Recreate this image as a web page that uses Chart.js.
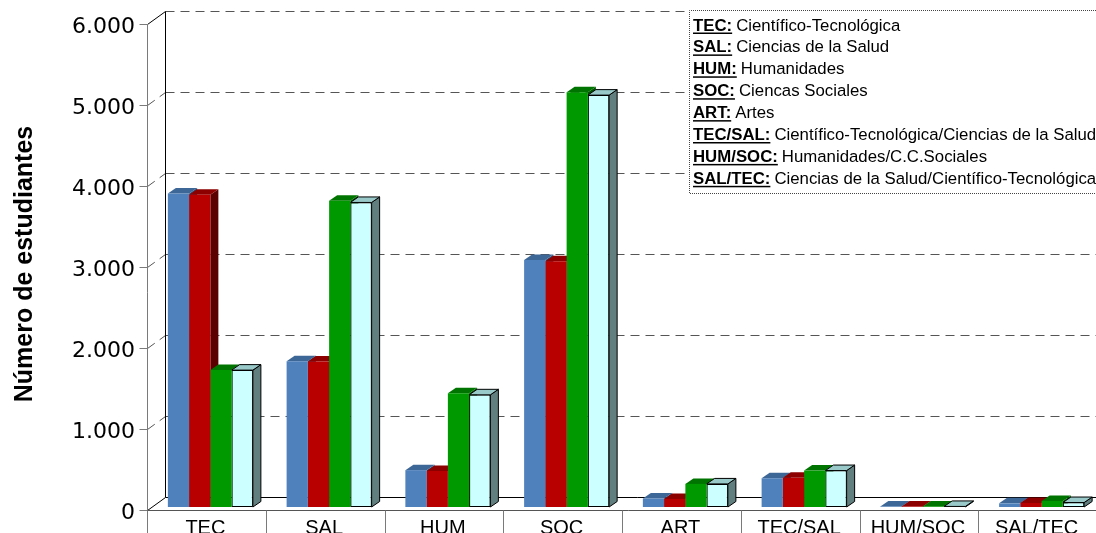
<!DOCTYPE html>
<html>
<head>
<meta charset="utf-8">
<script src="https://cdn.jsdelivr.net/npm/chart.js@4/dist/chart.umd.min.js"></script>
<style>
  html, body { margin: 0; padding: 0; background: #fff; overflow: hidden; }
  #wrap { width: 1096px; height: 533px; overflow: hidden; }
  #inner { width: 1110px; height: 560px; }
</style>
</head>
<body>
<div id="wrap"><div id="inner"><canvas id="chart" width="1110" height="560"></canvas></div></div>
<script>
// categorias y valores
const categories = ['TEC', 'SAL', 'HUM', 'SOC', 'ART', 'TEC/SAL', 'HUM/SOC', 'SAL/TEC'];
const serie1 = [3870, 1800, 455, 3050, 105, 355, 6, 45];
const serie2 = [3855, 1795, 445, 3035, 100, 360, 6, 50];
const serie3 = [1690, 3780, 1405, 5120, 285, 450, 7, 75];
const serie4 = [1690, 3760, 1385, 5085, 285, 450, 7, 55];
const yTickLabels = ['0', '1.000', '2.000', '3.000', '4.000', '5.000', '6.000'];
const legendKeys = ['TEC:', 'SAL:', 'HUM:', 'SOC:', 'ART:', 'TEC/SAL:', 'HUM/SOC:', 'SAL/TEC:'];
const legendTexts = [
    'Científico-Tecnológica',
    'Ciencias de la Salud',
    'Humanidades',
    'Ciencas Sociales',
    'Artes',
    'Científico-Tecnológica/Ciencias de la Salud',
    'Humanidades/C.C.Sociales',
    'Ciencias de la Salud/Científico-Tecnológica'
];

// colores: frente, arriba, lado
const colors = [
    { front: '#4f81bd', top: '#3d6796', side: '#2e4d72' },
    { front: '#b80000', top: '#8c0000', side: '#5a0000' },
    { front: '#009900', top: '#007400', side: '#005500' },
    { front: '#ccffff', top: '#99c9c9', side: '#627f7f' }
];

const FRONT = { x: -4, y: 3 };
const BACK = { x: 14, y: -10 };
const D3 = { x: 8, y: 5.5 };

function line(ctx, x1, y1, x2, y2) {
    ctx.beginPath();
    ctx.moveTo(x1, y1);
    ctx.lineTo(x2, y2);
    ctx.stroke();
}

function noPadding(scale) {
    scale.paddingTop = 0;
    scale.paddingBottom = 0;
    scale.paddingLeft = 0;
    scale.paddingRight = 0;
}

const walls3d = {
    id: 'walls3d',
    beforeDatasetsDraw(chart) {
        const { ctx, chartArea: a, scales: { x, y } } = chart;
        const yTop = y.getPixelForValue(6000);
        const y0 = y.getPixelForValue(0);
        const fl = Math.round(a.left + FRONT.x) + 0.5;
        const bl = Math.round(a.left + BACK.x) + 0.5;
        const right = chart.width;
        ctx.save();
        ctx.lineWidth = 1;

        // lineas de division (pared del fondo y lateral)
        ctx.strokeStyle = '#555';
        ctx.setLineDash([9, 6]);
        y.ticks.forEach(t => {
            if (t.value === 0) return;
            const py = Math.round(y.getPixelForValue(t.value)) + 0.5;
            line(ctx, bl, py + BACK.y, right, py + BACK.y);
            if (t.value < 6000) line(ctx, fl, py + FRONT.y, bl, py + BACK.y);
        });
        ctx.setLineDash([]);

        // bordes de la pared
        ctx.strokeStyle = '#000';
        const yt = Math.round(yTop) + 0.5, yb = Math.round(y0) + 0.5;
        line(ctx, bl, yt + BACK.y, bl, yb + BACK.y);
        line(ctx, bl, yb + BACK.y, right, yb + BACK.y);
        line(ctx, fl, yb + FRONT.y, bl, yb + BACK.y);
        line(ctx, fl, yt + FRONT.y, bl, yt + BACK.y);

        // eje frontal
        ctx.strokeStyle = '#7a7a7a';
        line(ctx, fl, yt + FRONT.y, fl, chart.height);
        y.ticks.forEach(t => {
            const py = Math.round(y.getPixelForValue(t.value)) + 0.5 + FRONT.y;
            line(ctx, fl - 8, py, fl, py);
        });
        ctx.strokeStyle = '#555';
        line(ctx, fl, yb + FRONT.y, right, yb + FRONT.y);
        ctx.strokeStyle = '#7a7a7a';
        for (let i = 1; i <= categories.length; i++) {
            const xb = Math.round((x.getPixelForValue(i - 1) + x.getPixelForValue(i)) / 2 + FRONT.x) + 0.5;
            line(ctx, xb, yb + FRONT.y, xb, chart.height);
        }

        // caras laterales y superiores de las barras
        for (let i = 0; i < categories.length; i++) {
            chart.data.datasets.forEach((ds, j) => {
                const bar = chart.getDatasetMeta(j).data[i];
                const c = colors[j];
                const l = bar.x - bar.width / 2, r = bar.x + bar.width / 2;
                const top = bar.y, base = bar.base;
                ctx.fillStyle = c.side;
                ctx.beginPath();
                ctx.moveTo(r, top);
                ctx.lineTo(r + D3.x, top - D3.y);
                ctx.lineTo(r + D3.x, base - D3.y);
                ctx.lineTo(r, base);
                ctx.closePath();
                ctx.fill();
                if (j === 3) { ctx.strokeStyle = '#000'; ctx.stroke(); }
                ctx.fillStyle = c.top;
                ctx.beginPath();
                ctx.moveTo(l, top);
                ctx.lineTo(l + D3.x, top - D3.y);
                ctx.lineTo(r + D3.x, top - D3.y);
                ctx.lineTo(r, top);
                ctx.closePath();
                ctx.fill();
                if (j === 3) { ctx.strokeStyle = '#000'; ctx.stroke(); }
            });
        }
        ctx.restore();
    },
    afterDraw(chart) {
        // cuadro de texto con las abreviaturas
        const ctx = chart.ctx;
        ctx.save();
        ctx.fillStyle = '#fff';
        ctx.fillRect(689, 10, 440, 184);
        ctx.strokeStyle = '#444';
        ctx.setLineDash([1, 1]);
        ctx.beginPath();
        ctx.moveTo(1110, 10.5);
        ctx.lineTo(689.5, 10.5);
        ctx.lineTo(689.5, 193.5);
        ctx.lineTo(1110, 193.5);
        ctx.stroke();
        ctx.setLineDash([]);
        ctx.textBaseline = 'alphabetic';
        ctx.fillStyle = '#000';
        legendKeys.forEach((k, i) => {
            const by = 30.5 + i * 21.9;
            ctx.font = 'bold 16.8px "Liberation Sans", Arial, sans-serif';
            ctx.fillText(k, 693, by);
            const w = ctx.measureText(k).width;
            ctx.fillRect(693, by + 2, w, 1.5);
            ctx.font = '16.8px "Liberation Sans", Arial, sans-serif';
            ctx.fillText(legendTexts[i], 693 + w + 4, by);
        });
        ctx.restore();
    }
};

Chart.defaults.font.family = '"Liberation Sans", Arial, sans-serif';
Chart.defaults.color = '#000';

const ctx = document.getElementById('chart').getContext('2d');
new Chart(ctx, {
    type: 'bar',
    data: {
        labels: categories,
        datasets: [serie1, serie2, serie3, serie4].map((vals, j) => ({
            label: 'Serie ' + (j + 1),
            data: vals,
            backgroundColor: colors[j].front,
            borderColor: '#000',
            borderWidth: j === 3 ? 1 : 0,
            borderSkipped: false,
            barPercentage: 1,
            categoryPercentage: 0.716
        }))
    },
    options: {
        responsive: false,
        animation: false,
        devicePixelRatio: 1,
        layout: { padding: { left: 0, top: 21, right: 9, bottom: 0 } },
        plugins: {
            legend: { display: false },
            tooltip: { enabled: false }
        },
        scales: {
            x: {
                grid: { display: false, drawTicks: false },
                border: { display: false },
                ticks: {
                    font: { size: 20 },
                    padding: 9,
                    labelOffset: -5,
                    maxRotation: 0,
                    autoSkip: false
                },
                afterFit(scale) { scale.height = 53; noPadding(scale); }
            },
            y: {
                min: 0,
                max: 6000,
                grid: { display: false, drawTicks: false },
                border: { display: false },
                ticks: {
                    stepSize: 1000,
                    font: { size: 22, family: '"DejaVu Sans", sans-serif' },
                    padding: 16,
                    labelOffset: 6,
                    callback: (v, i) => yTickLabels[i]
                },
                title: {
                    display: true,
                    text: 'Número de estudiantes',
                    font: { size: 25, weight: 'bold' },
                    padding: { top: 10, bottom: 0 }
                },
                afterFit(scale) { scale.width = 151; noPadding(scale); }
            }
        }
    },
    plugins: [walls3d]
});
</script>
</body>
</html>
